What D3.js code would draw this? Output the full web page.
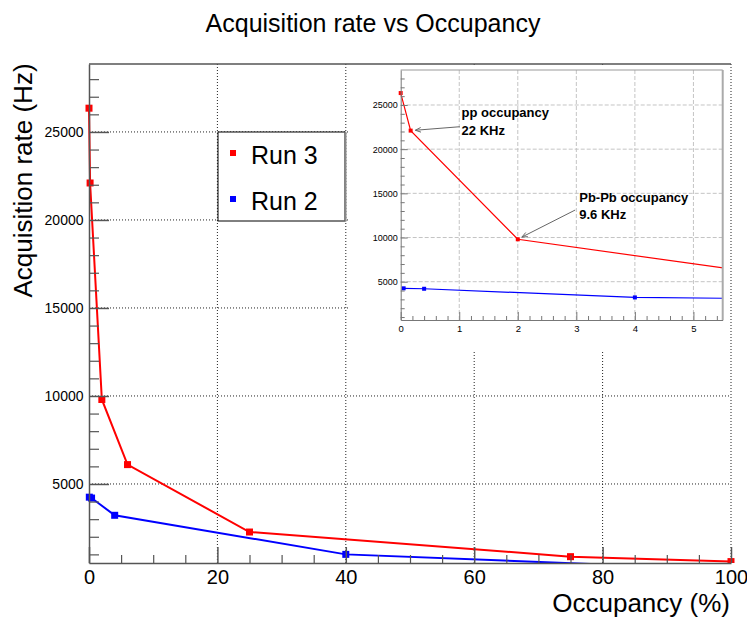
<!DOCTYPE html>
<html><head><meta charset="utf-8">
<script src="https://cdn.jsdelivr.net/npm/d3@7"></script>
<style>
body{margin:0;background:#fff}
text{font-family:"Liberation Sans",Arial,Helvetica,sans-serif}
</style>
</head><body>
<svg id="c" width="747" height="625"></svg>
<script>
// ---- data ----
const run3X = [0, 0.17, 2, 6, 25, 75, 100];
const run3Y = [26350, 22100, 9800, 6100, 2270, 870, 590];
const run2X = [0.05, 0.4, 4, 40, 100];
const run2Y = [4250, 4200, 3220, 1000, 140];
const seriesNames = ["Run 3", "Run 2"];
const seriesColors = ["#ff0000", "#0000ff"];
const mainXTicks = [0, 20, 40, 60, 80, 100];
const mainYTicks = [5000, 10000, 15000, 20000, 25000];
const insetXTicks = [0, 1, 2, 3, 4, 5];
const insetYTicks = [5000, 10000, 15000, 20000, 25000];
const annLabels = [["pp occupancy", "22 KHz"], ["Pb-Pb occupancy", "9.6 KHz"]];
const annTextPos = [[1.04, 23600], [3.05, 14050]];
const annArrowFrom = [[1.01, 22540], [2.98, 13110]];
const annArrowTo = [[0.25, 22140], [2.07, 10050]];

const svg = d3.select("#c");
const run3 = run3X.map((x, i) => ({x, y: run3Y[i]}));
const run2 = run2X.map((x, i) => ({x, y: run2Y[i]}));
const series = [run3, run2];
const fmt = d3.format("d");

// ---- main plot ----
const x = d3.scaleLinear().domain([0, 100]).range([89, 731]);
const y = d3.scaleLinear().domain([510, 28860]).range([563, 64]);

svg.append("text").attr("x", 373).attr("y", 32).attr("text-anchor", "middle")
  .attr("font-size", 25).text("Acquisition rate vs Occupancy");

// grid
const grid = svg.append("g").attr("stroke", "#222").attr("stroke-dasharray", "1,2").attr("stroke-width", 1);
mainXTicks.filter(d => d > 0).forEach(d => grid.append("line")
  .attr("x1", x(d)).attr("x2", x(d)).attr("y1", y.range()[1]).attr("y2", y.range()[0]));
mainYTicks.forEach(d => grid.append("line")
  .attr("x1", x(0)).attr("x2", x(100)).attr("y1", y(d)).attr("y2", y(d)));

// frame top
svg.append("line").attr("x1", x(0)).attr("x2", x(100)).attr("y1", 64).attr("y2", 64)
  .attr("stroke", "#555").attr("stroke-width", 1.5);

svg.append("defs").append("clipPath").attr("id", "mclip").append("rect")
  .attr("x", 85).attr("y", 64).attr("width", 655).attr("height", 499);

const line = d3.line().x(d => x(d.x)).y(d => y(d.y));
const dg = svg.append("g").attr("clip-path", "url(#mclip)");
series.forEach((s, i) => {
  dg.append("path").datum(s).attr("d", line).attr("fill", "none")
    .attr("stroke", seriesColors[i]).attr("stroke-width", 2);
  dg.selectAll(null).data(s.filter(d => d.y >= y.domain()[0])).join("rect")
    .attr("x", d => x(d.x) - 3.5).attr("y", d => y(d.y) - 3.5)
    .attr("width", 7).attr("height", 7).attr("fill", seriesColors[i]);
});

// axes
function styleAxis(g, col, w) {
  g.selectAll("path.domain").attr("stroke", col).attr("stroke-width", w);
  g.selectAll(".tick line").attr("stroke", col).attr("stroke-width", w);
}
const yMinor = d3.range(1000, 28001, 1000).filter(d => d % 5000 !== 0);
const gy = svg.append("g").attr("transform", "translate(89,0)")
  .call(d3.axisLeft(y).tickValues(mainYTicks).tickFormat(fmt).tickSizeInner(-20).tickSizeOuter(0).tickPadding(5.5));
gy.selectAll("text").attr("font-size", 14).attr("fill", "#000");
styleAxis(gy, "#555", 1.5);
const gy2 = svg.append("g").attr("transform", "translate(89,0)")
  .call(d3.axisLeft(y).tickValues(yMinor).tickSize(-10).tickFormat(""));
gy2.select(".domain").remove(); styleAxis(gy2, "#555", 1.2);

const xMinor = d3.range(5, 100, 5).filter(d => d % 20 !== 0);
const gx = svg.append("g").attr("transform", "translate(0,563)")
  .call(d3.axisBottom(x).tickValues(mainXTicks).tickFormat(fmt).tickSizeInner(-16).tickSizeOuter(0).tickPadding(7));
gx.selectAll("text").attr("font-size", 20).attr("fill", "#000");
styleAxis(gx, "#555", 1.5);
const gx2 = svg.append("g").attr("transform", "translate(0,563)")
  .call(d3.axisBottom(x).tickValues(xMinor).tickSize(-8).tickFormat(""));
gx2.select(".domain").remove(); styleAxis(gx2, "#555", 1.2);

svg.append("text").attr("transform", "translate(32,180.5) rotate(-90)")
  .attr("text-anchor", "middle").attr("font-size", 26).text("Acquisition rate (Hz)");
svg.append("text").attr("x", 730).attr("y", 612).attr("text-anchor", "end")
  .attr("font-size", 26).text("Occupancy (%)");

// legend
const lg = svg.append("g");
lg.append("rect").attr("x", 218).attr("y", 132).attr("width", 127).attr("height", 89)
  .attr("fill", "#fff").attr("stroke", "#000").attr("stroke-width", 1);
lg.append("line").attr("x1", 345.5).attr("x2", 345.5).attr("y1", 132).attr("y2", 221.5)
  .attr("stroke", "#888").attr("stroke-width", 2);
seriesNames.forEach((n, i) => {
  const cy = 153 + i * 46;
  lg.append("rect").attr("x", 230).attr("y", cy - 3).attr("width", 6).attr("height", 6)
    .attr("fill", seriesColors[i]);
  lg.append("text").attr("x", 251).attr("y", cy + 10.5).attr("font-size", 25).text(n);
});

// ---- inset ----
const ix = d3.scaleLinear().domain([0, 5.5]).range([400.7, 722.7]);
const iy = d3.scaleLinear().domain([665, 28960]).range([320, 70]);

svg.append("rect").attr("x", 348).attr("y", 65.5).attr("width", 381).attr("height", 285).attr("fill", "#fff");

const ig = svg.append("g").attr("stroke", "#c4c4c4").attr("stroke-dasharray", "4,2").attr("stroke-width", 1);
insetXTicks.filter(d => d > 0).forEach(d => ig.append("line")
  .attr("x1", ix(d)).attr("x2", ix(d)).attr("y1", 70).attr("y2", 320));
insetYTicks.forEach(d => ig.append("line")
  .attr("x1", ix(0)).attr("x2", ix(5.5)).attr("y1", iy(d)).attr("y2", iy(d)));

svg.append("defs").append("clipPath").attr("id", "iclip").append("rect")
  .attr("x", 398).attr("y", 70).attr("width", 324.7).attr("height", 250);
const ilineGen = d3.line().x(d => ix(d.x)).y(d => iy(d.y));
const idg = svg.append("g").attr("clip-path", "url(#iclip)");
series.forEach((s, i) => {
  idg.append("path").datum(s).attr("d", ilineGen).attr("fill", "none")
    .attr("stroke", seriesColors[i]).attr("stroke-width", 1.2);
  idg.selectAll(null).data(s.filter(d => d.x <= 5.5)).join("rect")
    .attr("x", d => ix(d.x) - 2).attr("y", d => iy(d.y) - 2)
    .attr("width", 4).attr("height", 4).attr("fill", seriesColors[i]);
});

// inset frame
svg.append("line").attr("x1", ix(0)).attr("x2", ix(5.5)).attr("y1", 70).attr("y2", 70)
  .attr("stroke", "#999").attr("stroke-width", 1);
svg.append("line").attr("x1", ix(5.5)).attr("x2", ix(5.5)).attr("y1", 70).attr("y2", 320)
  .attr("stroke", "#aaa").attr("stroke-width", 2);

const iyMinor = d3.range(1000, 29000, 1000).filter(d => d % 5000 !== 0);
const igy = svg.append("g").attr("transform", `translate(${ix(0)},0)`)
  .call(d3.axisLeft(iy).tickValues(insetYTicks).tickFormat(fmt).tickSizeInner(-7).tickSizeOuter(0).tickPadding(3));
igy.selectAll("text").attr("font-size", 9).attr("fill", "#000");
styleAxis(igy, "#777", 1);
const igy2 = svg.append("g").attr("transform", `translate(${ix(0)},0)`)
  .call(d3.axisLeft(iy).tickValues(iyMinor).tickSize(-4).tickFormat(""));
igy2.select(".domain").remove(); styleAxis(igy2, "#777", 1);

const ixMinor = d3.range(0.2, 5.5, 0.2).filter(d => Math.abs(d - Math.round(d)) > 0.01);
const igx = svg.append("g").attr("transform", "translate(0,320)")
  .call(d3.axisBottom(ix).tickValues(insetXTicks).tickFormat(fmt).tickSizeInner(-8).tickSizeOuter(0).tickPadding(5));
igx.selectAll("text").attr("font-size", 9.5).attr("fill", "#000");
styleAxis(igx, "#777", 1);
const igx2 = svg.append("g").attr("transform", "translate(0,320)")
  .call(d3.axisBottom(ix).tickValues(ixMinor).tickSize(-4).tickFormat(""));
igx2.select(".domain").remove(); styleAxis(igx2, "#777", 1);

// annotations
annLabels.forEach((lab, i) => {
  const [tx, ty] = annTextPos[i];
  const t = svg.append("text").attr("x", ix(tx)).attr("y", iy(ty))
    .attr("font-size", 13).attr("font-weight", "bold");
  lab.forEach((l, j) => t.append("tspan").attr("x", ix(tx)).attr("dy", j ? 17.5 : 0).text(l));
  const x1 = ix(annArrowFrom[i][0]), y1 = iy(annArrowFrom[i][1]);
  const x2 = ix(annArrowTo[i][0]), y2 = iy(annArrowTo[i][1]);
  svg.append("line").attr("x1", x1).attr("y1", y1).attr("x2", x2).attr("y2", y2)
    .attr("stroke", "#666").attr("stroke-width", 1);
  const a = Math.atan2(y2 - y1, x2 - x1), L = 6, w = 0.4;
  svg.append("path")
    .attr("d", `M${x2 - L * Math.cos(a - w)},${y2 - L * Math.sin(a - w)}L${x2},${y2}L${x2 - L * Math.cos(a + w)},${y2 - L * Math.sin(a + w)}`)
    .attr("fill", "none").attr("stroke", "#666").attr("stroke-width", 1);
});
</script>
</body></html>
